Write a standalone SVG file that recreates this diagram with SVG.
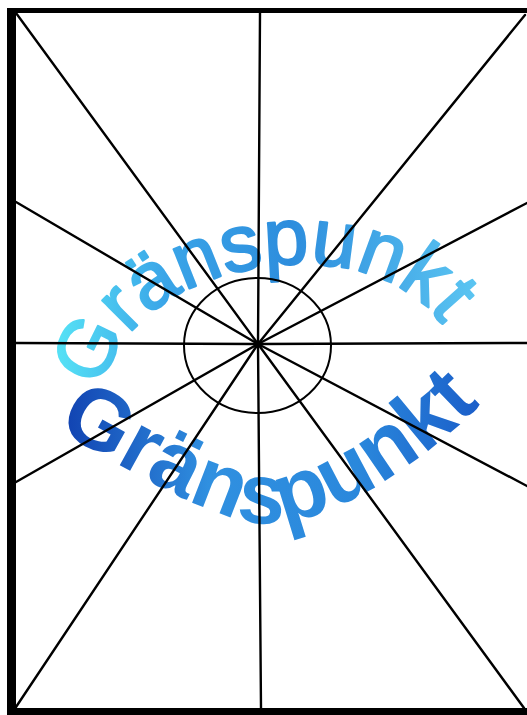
<svg xmlns="http://www.w3.org/2000/svg" width="527" height="715" viewBox="0 0 527 715">
<style>
.ray{stroke:#000;stroke-width:2.4;fill:none;stroke-linecap:round}
.frame{fill:#000}
.t1{font-family:"Liberation Sans",Arial,sans-serif;font-size:80px;font-weight:normal;stroke:url(#g1);stroke-width:2.2;stroke-linejoin:round}
.t2{font-family:"Liberation Sans",Arial,sans-serif;font-size:86px;font-weight:bold}
</style>
<defs>
<linearGradient id="g1" gradientUnits="userSpaceOnUse" x1="60" y1="0" x2="480" y2="0">
<stop offset="0" stop-color="#55e0f5"/>
<stop offset="0.25" stop-color="#3aa5e8"/>
<stop offset="0.55" stop-color="#2d8ddd"/>
<stop offset="1" stop-color="#5cc6f2"/>
</linearGradient>
<linearGradient id="g2" gradientUnits="userSpaceOnUse" x1="60" y1="0" x2="485" y2="0">
<stop offset="0" stop-color="#1040b0"/>
<stop offset="0.35" stop-color="#3090e0"/>
<stop offset="0.7" stop-color="#2a88dc"/>
<stop offset="1" stop-color="#1a5cc8"/>
</linearGradient>
<path id="arcTop" d="M102,390 C126,255 396,208 458,352"/>
<path id="arcBottom" d="M56,430 C110,457 210,524 270,524 C332,524 432,458 492,392"/>
</defs>
<rect width="527" height="715" fill="#fff"/>
<g id="frame">
<rect class="frame" x="7" y="8" width="520" height="5"/>
<rect class="frame" x="7" y="8" width="9" height="707"/>
<rect class="frame" x="7" y="708" width="520" height="7"/>
</g>
<g id="text-top">
<text class="t1" fill="url(#g1)"><textPath href="#arcTop">Gränspunkt</textPath></text>
</g>
<g id="text-bottom">
<text class="t2" fill="url(#g2)"><textPath href="#arcBottom">Gränspunkt</textPath></text>
</g>
<g id="rays">
<line class="ray" x1="258" y1="344" x2="16" y2="13"/>
<line class="ray" x1="258" y1="344" x2="260" y2="13"/>
<line class="ray" x1="258" y1="344" x2="525" y2="15"/>
<line class="ray" x1="258" y1="344" x2="527" y2="203"/>
<line class="ray" x1="258" y1="344" x2="527" y2="343"/>
<line class="ray" x1="258" y1="344" x2="527" y2="486"/>
<line class="ray" x1="258" y1="344" x2="524" y2="708"/>
<line class="ray" x1="258" y1="344" x2="261" y2="708"/>
<line class="ray" x1="258" y1="344" x2="16" y2="707"/>
<line class="ray" x1="258" y1="344" x2="16" y2="482"/>
<line class="ray" x1="258" y1="344" x2="16" y2="343"/>
<line class="ray" x1="258" y1="344" x2="16" y2="202"/>
</g>
<g id="center">
<ellipse cx="257.5" cy="345.5" rx="73.5" ry="67.5" fill="none" stroke="#000" stroke-width="2"/>
<circle cx="258" cy="344" r="3" fill="#000"/>
</g>
</svg>
